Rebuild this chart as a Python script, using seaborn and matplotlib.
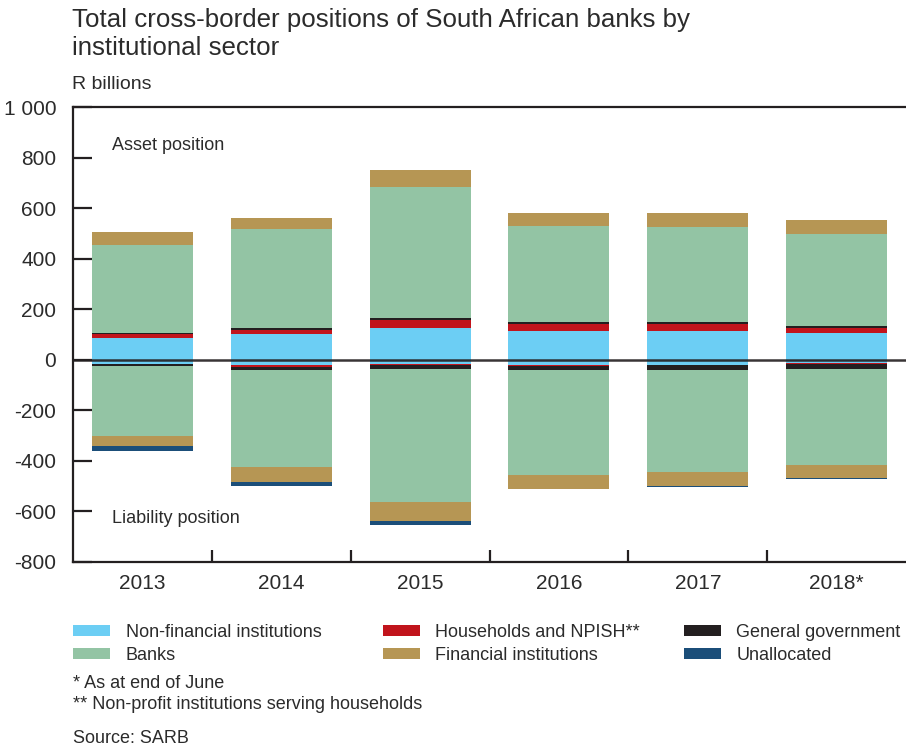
import matplotlib
matplotlib.use("Agg")
import matplotlib.pyplot as plt
from matplotlib.patches import Patch
from matplotlib.ticker import FixedLocator, NullFormatter
import numpy as np
import pandas as pd
import seaborn as sns

# ---- data (R billions) ----
years = ["2013", "2014", "2015", "2016", "2017", "2018*"]

# asset position
nfi_assets = [88, 103, 127, 115, 115, 107]
households_assets = [13, 16, 32, 28, 28, 20]
government_assets = [3, 8, 8, 8, 8, 8]
banks_assets = [351, 392, 518, 380, 376, 364]
financial_assets = [51, 40, 67, 51, 55, 55]

# liability position
nfi_liab = [-16, -22, -18, -20, -20, -14]
households_liab = [0, -5, -4, -5, -2, -4]
government_liab = [-9, -12, -13, -15, -17, -17]
banks_liab = [-278, -384, -526, -415, -407, -380]
financial_liab = [-40, -59, -75, -55, -55, -51]
unallocated_liab = [-16, -16, -16, 0, -4, -4]

y_ticks = [-800, -600, -400, -200, 0, 200, 400, 600, 800, 1000]
y_tick_labels = ["-800", "-600", "-400", "-200", "0", "200", "400", "600", "800", "1 000"]

# ---- styling ----
C_NFI = "#6ccef4"
C_HH = "#c1141c"
C_GOV = "#231f20"
C_BANKS = "#93c4a4"
C_FIN = "#b69654"
C_UNAL = "#1b4e79"
INK = "#231f20"
TXT = "#2b2b2b"

sns.set_theme(style="white")
plt.rcParams["font.family"] = ["Liberation Sans", "DejaVu Sans"]
plt.rcParams["text.color"] = TXT

fig = plt.figure(figsize=(9.06, 7.51), dpi=100)
ax = fig.add_axes([0.0806, 0.2517, 0.9194, 0.6058])

assets = [
    ("Non-financial institutions", nfi_assets, C_NFI),
    ("Households and NPISH**", households_assets, C_HH),
    ("General government", government_assets, C_GOV),
    ("Banks", banks_assets, C_BANKS),
    ("Financial institutions", financial_assets, C_FIN),
]
liabilities = [
    ("Non-financial institutions", nfi_liab, C_NFI),
    ("Households and NPISH**", households_liab, C_HH),
    ("General government", government_liab, C_GOV),
    ("Banks", banks_liab, C_BANKS),
    ("Financial institutions", financial_liab, C_FIN),
    ("Unallocated", unallocated_liab, C_UNAL),
]

for stack in (assets, liabilities):
    base = np.zeros(len(years))
    for name, values, color in stack:
        df = pd.DataFrame({"year": years, "value": values})
        sns.barplot(data=df, x="year", y="value", order=years, bottom=base,
                    color=color, saturation=1, width=0.727, linewidth=0,
                    errorbar=None, ax=ax)
        base = base + np.asarray(values, dtype=float)

ax.axhline(0, color=INK, lw=1.8, alpha=0.9, zorder=5)

ax.set_xlim(-0.5, 5.5)
ax.set_ylim(-800, 1000)
ax.set_xlabel("")
ax.set_ylabel("")

for side in ("left", "top", "bottom"):
    ax.spines[side].set_visible(True)
    ax.spines[side].set_color(INK)
    ax.spines[side].set_linewidth(1.6)
ax.spines["right"].set_visible(False)

ax.set_yticks(y_ticks)
ax.set_yticklabels(y_tick_labels)
ax.tick_params(axis="y", which="major", direction="in", length=14, width=1.6,
               color=INK, pad=12, labelsize=15, labelcolor=TXT, left=True)
ax.set_xticks(range(len(years)))
ax.set_xticklabels(years)
ax.tick_params(axis="x", which="major", length=0, pad=9, labelsize=15, labelcolor=TXT)
ax.xaxis.set_minor_locator(FixedLocator(np.arange(0.5, len(years) - 0.5, 1.0)))
ax.xaxis.set_minor_formatter(NullFormatter())
ax.tick_params(axis="x", which="minor", direction="in", length=9, width=1.6,
               color=INK, bottom=True)

ax.text(-0.22, 846, "Asset position", fontsize=13, va="center", ha="left", color=TXT)
ax.text(-0.22, -629, "Liability position", fontsize=13, va="center", ha="left", color=TXT)

# titles
fig.text(0.0795, 0.990, "Total cross-border positions of South African banks by\ninstitutional sector",
         fontsize=18.6, va="top", ha="left", linespacing=1.22, color=TXT)
fig.text(0.0795, 0.888, "R billions", fontsize=14, va="center", ha="left", color=TXT)

# legend in three columns
columns = [
    [("Non-financial institutions", C_NFI), ("Banks", C_BANKS)],
    [("Households and NPISH**", C_HH), ("Financial institutions", C_FIN)],
    [("General government", C_GOV), ("Unallocated", C_UNAL)],
]
col_x = [0.0811, 0.4227, 0.755]
for cx, items in zip(col_x, columns):
    handles = [Patch(facecolor=c, edgecolor="none", label=l) for l, c in items]
    fig.legend(handles=handles, loc="upper left", bbox_to_anchor=(cx, 0.169),
               frameon=False, fontsize=13, handlelength=2.05, handleheight=0.55,
               handletextpad=0.85, labelspacing=0.31, borderpad=0, borderaxespad=0)

fig.text(0.0806, 0.0905, "* As at end of June", fontsize=13, va="center", ha="left", color=TXT)
fig.text(0.0806, 0.0613, "** Non-profit institutions serving households", fontsize=13,
         va="center", ha="left", color=TXT)
fig.text(0.0806, 0.016, "Source: SARB", fontsize=13, va="center", ha="left", color=TXT)

fig.savefig("out.png", dpi=100)
